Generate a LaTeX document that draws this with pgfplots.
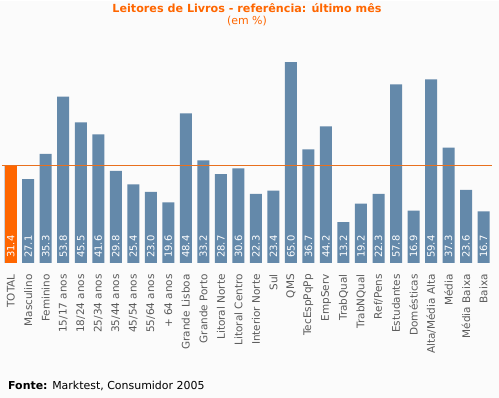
\documentclass[border=0pt]{standalone}
\usepackage{pgfplots}
\usepackage{pgfplotstable}
\usepackage{fontspec}
\setmainfont{DejaVu Sans}
\pgfplotsset{compat=1.18}
\definecolor{bg}{HTML}{FBFBFB}
\definecolor{barblue}{HTML}{6489AA}
\definecolor{orangeT}{HTML}{FF6600}
\definecolor{lineor}{HTML}{E8701E}
\definecolor{labgrey}{HTML}{5A5A5A}
\pgfplotstableread[col sep=comma]{
x,v,lab
0,31.4,TOTAL
1,27.1,Masculino
2,35.3,Feminino
3,53.8,15/17 anos
4,45.5,18/24 anos
5,41.6,25/34 anos
6,29.8,35/44 anos
7,25.4,45/54 anos
8,23.0,55/64 anos
9,19.6,+ 64 anos
10,48.4,Grande Lisboa
11,33.2,Grande Porto
12,28.7,Litoral Norte
13,30.6,Litoral Centro
14,22.3,Interior Norte
15,23.4,Sul
16,65.0,QMS
17,36.7,TecEspPqPp
18,44.2,EmpServ
19,13.2,TrabQual
20,19.2,TrabNQual
21,22.3,Ref/Pens
22,57.8,Estudantes
23,16.9,Domésticas
24,59.4,Alta/Média Alta
25,37.3,Média
26,23.6,Média Baixa
27,16.7,Baixa
}\data
\pgfplotstableread[col sep=comma]{
x,v
0,31.4
}\total
\begin{document}
\begin{tikzpicture}[x=1bp,y=1bp]
\fill[bg] (0,0) rectangle (499,397);
\begin{axis}[
  at={(1.94bp,135bp)}, anchor=south west,
  scale only axis, width=490.4bp, height=216.3bp,
  xmin=-0.5, xmax=27.5, ymin=0, ymax=70,
  enlargelimits=false, clip=false,
  axis line style={draw=none}, tick style={draw=none},
  ytick=\empty,
  xtick={0,...,27},
  xticklabels from table={\data}{lab},
  xticklabel style={rotate=90, anchor=east, inner sep=0pt, text=labgrey, font=\fontsize{10.5}{12}\selectfont},
  xticklabel shift=7bp,
  ybar, bar width=12bp,
]
\addplot[fill=barblue, draw=none, bar shift=0pt] table[x=x, y=v] \data;
\addplot[fill=orangeT, draw=none, bar shift=0pt] table[x=x, y=v] \total;
\addplot[sharp plot, lineor, line width=0.8pt] coordinates {(-0.5,31.4) (27.5,31.4)};
\addplot[draw=none, mark=none, bar shift=0pt, fill=none,
  nodes near coords, point meta=explicit symbolic,
  nodes near coords style={anchor=west, rotate=90, inner sep=0pt, text=white, font=\fontsize{10}{12}\selectfont}]
  table[x=x, y expr=1.6, meta=v] \data;
\end{axis}
\node[text=orangeT, font=\bfseries\fontsize{11.2}{13}\selectfont] at (247,390) {Leitores de Livros - referência: último mês};
\node[text=orangeT, font=\fontsize{11}{13}\selectfont] at (247,377) {(em \%)};
\node[anchor=west, inner sep=0pt, font=\fontsize{11}{13}\selectfont] at (8,12) {\textbf{Fonte:} Marktest, Consumidor 2005};
\end{tikzpicture}
\end{document}
